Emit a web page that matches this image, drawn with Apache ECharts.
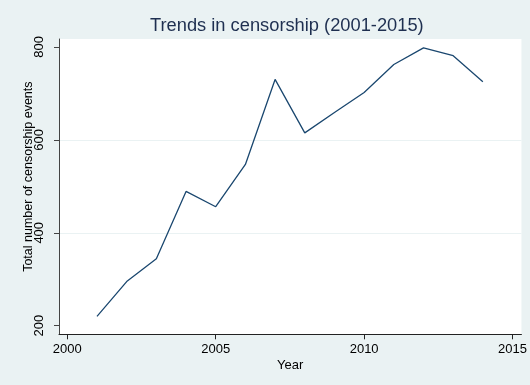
<!DOCTYPE html>
<html>
<head>
<meta charset="utf-8">
<script src="https://cdn.jsdelivr.net/npm/echarts@6/dist/echarts.min.js"></script>
<style>
  html, body { margin: 0; padding: 0; background: #EAF2F3; }
  #chart { width: 530px; height: 385px; }
</style>
</head>
<body>
<div id="chart"></div>
<script>
// Annual totals of recorded censorship events
const years = [2001, 2002, 2003, 2004, 2005, 2006, 2007, 2008, 2009, 2010, 2011, 2012, 2013, 2014];
const events = [220, 295, 344, 489, 456, 547, 730, 615, 659, 702, 762, 798, 781, 725];
const xTicks = [2000, 2005, 2010, 2015];
const yTicks = [200, 400, 600, 800];

const navy = '#1A476F';
const font = 'Liberation Sans, Arial, sans-serif';

const chart = echarts.init(document.getElementById('chart'), null, { renderer: 'canvas' });

chart.setOption({
  backgroundColor: '#EAF2F3',
  animation: false,
  title: {
    text: 'Trends in censorship (2001-2015)',
    left: 150,
    top: 17,
    padding: 0,
    textStyle: { fontFamily: font, fontSize: 18.3, fontWeight: 'normal', color: '#1E2F50' }
  },
  grid: {
    left: 59, top: 39, right: 8.3, bottom: 50.7,
    show: true, backgroundColor: '#FFFFFF', borderWidth: 0
  },
  xAxis: {
    type: 'value',
    min: 1999.72,
    max: 2015.3,
    splitNumber: 3,
    name: 'Year',
    nameLocation: 'middle',
    nameGap: 25,
    nameMoveOverlap: false,
    nameTextStyle: { fontFamily: font, fontSize: 13, color: '#000' },
    axisLine: { lineStyle: { color: '#222', width: 1 } },
    axisTick: { customValues: xTicks, length: 5, lineStyle: { color: '#222' } },
    axisLabel: {
      customValues: xTicks, margin: 9,
      fontFamily: font, fontSize: 13, color: '#000',
      formatter: v => String(v)
    },
    splitLine: { show: false }
  },
  yAxis: {
    type: 'value',
    min: 181.5,
    max: 817,
    splitNumber: 3,
    name: 'Total number of censorship events',
    nameLocation: 'middle',
    nameRotate: 90,
    nameGap: 24,
    nameMoveOverlap: false,
    nameTextStyle: { fontFamily: font, fontSize: 12.5, color: '#000', padding: [0, 0, 0, 20] },
    axisLine: { show: true, lineStyle: { color: '#444', width: 1 } },
    axisTick: { show: true, customValues: yTicks, length: 5, lineStyle: { color: '#444' } },
    axisLabel: {
      customValues: yTicks, rotate: 90, margin: 13,
      fontFamily: font, fontSize: 13, color: '#000'
    },
    splitLine: {
      show: true, showMinLine: false, showMaxLine: false,
      lineStyle: { color: '#EAF2F3', width: 1 }
    }
  },
  series: [{
    type: 'line',
    data: years.map((y, i) => [y, events[i]]),
    showSymbol: false,
    symbol: 'none',
    lineStyle: { color: navy, width: 1.3 },
    itemStyle: { color: navy }
  }]
});
</script>
</body>
</html>
